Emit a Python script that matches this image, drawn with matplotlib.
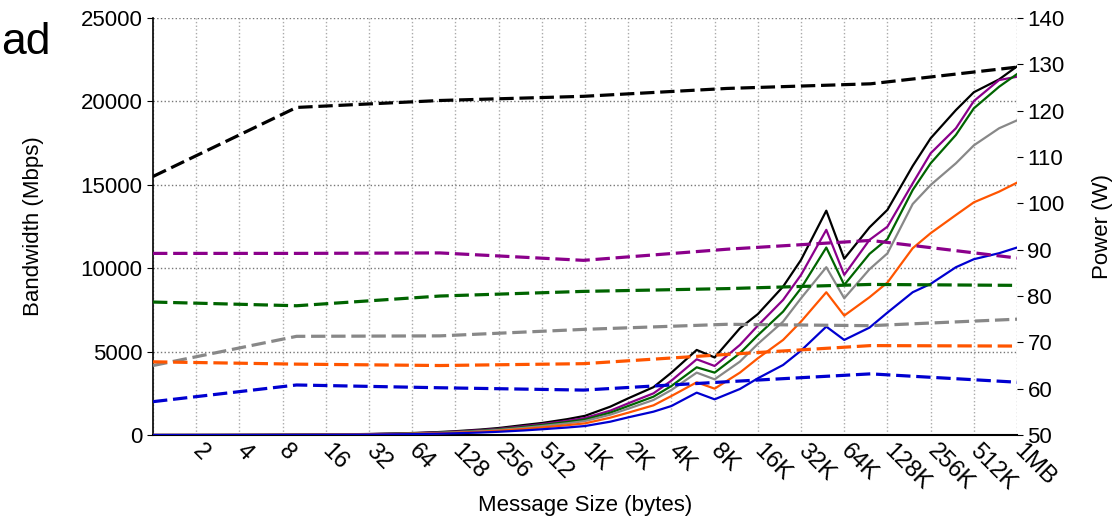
import numpy as np
import matplotlib.pyplot as plt

plt.rcParams['font.family'] = ['Liberation Sans', 'DejaVu Sans']

# message sizes (bytes) for bandwidth curves
sizes = [1, 2, 3, 4, 6, 8, 12, 16, 24, 32, 48, 64, 96, 128, 192, 256, 384, 512, 768,
         1024, 1536, 2048, 3072, 4096, 6144, 8192, 12288, 16384, 24576, 32768, 49152,
         65536, 98304, 131072, 196608, 262144, 393216, 524288, 786432, 1048576]

bw_black = [2, 4, 6, 8, 12, 16, 24, 32, 48, 62, 92, 120, 175, 230, 330, 420, 600, 720, 950,
            1150, 1700, 2200, 2870, 3740, 5100, 4650, 6400, 7250, 8900, 10500, 13450,
            10570, 12450, 13500, 16130, 17790, 19480, 20550, 21320, 22100]
bw_purple = [2, 3, 5, 7, 10, 14, 21, 28, 42, 55, 80, 105, 155, 200, 290, 370, 530, 650, 850,
             1020, 1460, 1900, 2500, 3260, 4540, 4140, 5400, 6560, 8100, 9600, 12300,
             9600, 11700, 12490, 15090, 16890, 18390, 20020, 21280, 21480]
bw_green = [2, 3, 5, 6, 9, 13, 19, 25, 38, 50, 73, 95, 140, 180, 260, 340, 480, 600, 780,
            930, 1340, 1740, 2300, 2940, 4060, 3740, 4900, 5980, 7400, 8800, 11240,
            9000, 10860, 11750, 14690, 16290, 17990, 19585, 20880, 21640]
bw_grey = [1, 3, 4, 6, 8, 11, 17, 23, 34, 45, 66, 85, 125, 165, 235, 305, 430, 540, 700,
           840, 1220, 1580, 2100, 2700, 3740, 3340, 4400, 5460, 6800, 8200, 10060,
           8200, 9940, 10890, 13850, 14990, 16290, 17365, 18390, 18865]
bw_orange = [1, 2, 3, 5, 7, 9, 14, 19, 28, 37, 55, 72, 105, 135, 195, 255, 360, 450, 590,
             700, 1040, 1340, 1780, 2340, 3160, 2780, 3740, 4600, 5700, 6800, 8560,
             7160, 8260, 9140, 11200, 12100, 13190, 13950, 14590, 15130]
bw_blue = [1, 1, 2, 3, 5, 7, 10, 14, 21, 28, 41, 54, 80, 105, 150, 195, 275, 345, 450,
           540, 800, 1060, 1400, 1740, 2540, 2140, 2760, 3400, 4200, 5060, 6500,
           5700, 6440, 7340, 8560, 9060, 10060, 10540, 10900, 11240]

# power samples (W)
psizes = [1, 10, 100, 1000, 10000, 100000, 1048576]
pw_black = [105.8, 120.7, 122.2, 123.1, 124.8, 125.8, 129.4]
pw_purple = [89.2, 89.2, 89.3, 87.7, 90.1, 92.0, 88.2]
pw_green = [78.7, 77.9, 80.0, 81.0, 81.6, 82.5, 82.3]
pw_grey = [65.0, 71.3, 71.4, 72.8, 73.9, 73.6, 75.0]
pw_orange = [65.8, 65.3, 65.0, 65.4, 67.4, 69.3, 69.2]
pw_blue = [57.2, 60.8, 60.2, 59.7, 61.5, 63.2, 61.4]

xlabels = ['', '2', '4', '8', '16', '32', '64', '128', '256', '512', '1K', '2K', '4K',
           '8K', '16K', '32K', '64K', '128K', '256K', '512K', '1MB']

colors = ['#000000', '#8b008b', '#006400', '#888888', '#ff5500', '#0000d0']
bws = [bw_black, bw_purple, bw_green, bw_grey, bw_orange, bw_blue]
pws = [pw_black, pw_purple, pw_green, pw_grey, pw_orange, pw_blue]

fig = plt.figure(figsize=(11.12, 5.19), dpi=100)
ax = fig.add_axes([0.1376, 0.1618, 0.777, 0.8035])
ax2 = ax.twinx()

x = np.log2(sizes)
px = np.log2(psizes)
for c, bw in zip(colors, bws):
    ax.plot(x, bw, color=c, lw=1.6, zorder=3)
for c, pw in zip(colors, pws):
    ax2.plot(px, pw, color=c, lw=2.3, linestyle=(0, (4.5, 1.8)))

ax.set_xlim(0, 20)
ax.set_ylim(0, 25000)
ax2.set_ylim(50, 140)
ax.set_xticks(range(21))
ax.set_xticklabels(xlabels, rotation=-45, ha='left', va='center', rotation_mode='anchor',
                   fontsize=17)
ax.tick_params(axis='x', length=0, pad=9)
ax.set_yticks(range(0, 25001, 5000))
ax.tick_params(axis='y', labelsize=16, length=4, direction='out')
ax2.set_yticks(range(50, 141, 10))
ax2.tick_params(axis='y', labelsize=16, length=4, direction='out')

ax.grid(True, axis='x', linestyle=':', color='#aaaaaa', lw=1)
ax.grid(True, axis='y', linestyle=':', color='#777777', lw=1)
ax.set_axisbelow(True)

for s in ['top', 'right']:
    ax.spines[s].set_visible(False)
for s in ['top', 'right', 'left', 'bottom']:
    ax2.spines[s].set_visible(False)
ax.spines['left'].set_linewidth(1.2)
ax.spines['bottom'].set_linewidth(1.5)

ax.set_xlabel('Message Size (bytes)', fontsize=16)
ax.xaxis.set_label_coords(0.5, -0.143)
ax.set_ylabel('Bandwidth (Mbps)', fontsize=16, labelpad=26)
ax2.set_ylabel('Power (W)', fontsize=16, labelpad=20)

# piece of a title that sits mostly outside this crop
fig.text(1 / 1112, 1 - 54 / 519, 'ad', fontsize=32, ha='left', va='baseline')

fig.savefig('out.png', dpi=100)
